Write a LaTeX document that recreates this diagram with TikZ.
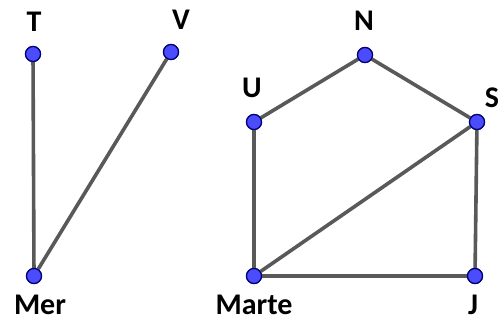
\documentclass[tikz,border=0pt]{standalone}
\usepackage{fontspec}
\setmainfont{Carlito}
\begin{document}
\begin{tikzpicture}[x=1pt,y=-1pt,
  vert/.style={circle,fill=blue!70!white,draw=blue!45!black,line width=1.2pt,minimum size=15pt,inner sep=0pt},
  lbl/.style={font=\bfseries\fontsize{30}{30}\selectfont,text=black,inner sep=0pt},
  edge/.style={draw=black!65,line width=3.6pt}]
\useasboundingbox[fill=white] (0,0) rectangle (501,322);
\node[vert] (T) at (33,54) {};
\node[vert] (V) at (171,52) {};
\node[vert] (Mer) at (34,276) {};
\node[vert] (N) at (365,55) {};
\node[vert] (U) at (254,122) {};
\node[vert] (S) at (477,122) {};
\node[vert] (Marte) at (254,276) {};
\node[vert] (J) at (475,276) {};
\draw[edge] (T) -- (Mer);
\draw[edge] (V) -- (Mer);
\draw[edge] (U) -- (N);
\draw[edge] (N) -- (S);
\draw[edge] (U) -- (Marte);
\draw[edge] (Marte) -- (S);
\draw[edge] (S) -- (J);
\draw[edge] (Marte) -- (J);
\node[vert] at (T) {};
\node[vert] at (V) {};
\node[vert] at (Mer) {};
\node[vert] at (N) {};
\node[vert] at (U) {};
\node[vert] at (S) {};
\node[vert] at (Marte) {};
\node[vert] at (J) {};
\node[lbl] (lT) at (34,22) {T};
\node[lbl] (lV) at (181,20) {V};
\node[lbl] (lMer) at (40,305) {Mer};
\node[lbl] (lN) at (364,21) {N};
\node[lbl] (lU) at (252,88) {U};
\node[lbl] (lS) at (492,98) {S};
\node[lbl] (lMarte) at (254,305) {Marte};
\node[lbl] (lJ) at (473,305) {J};
\end{tikzpicture}
\end{document}
